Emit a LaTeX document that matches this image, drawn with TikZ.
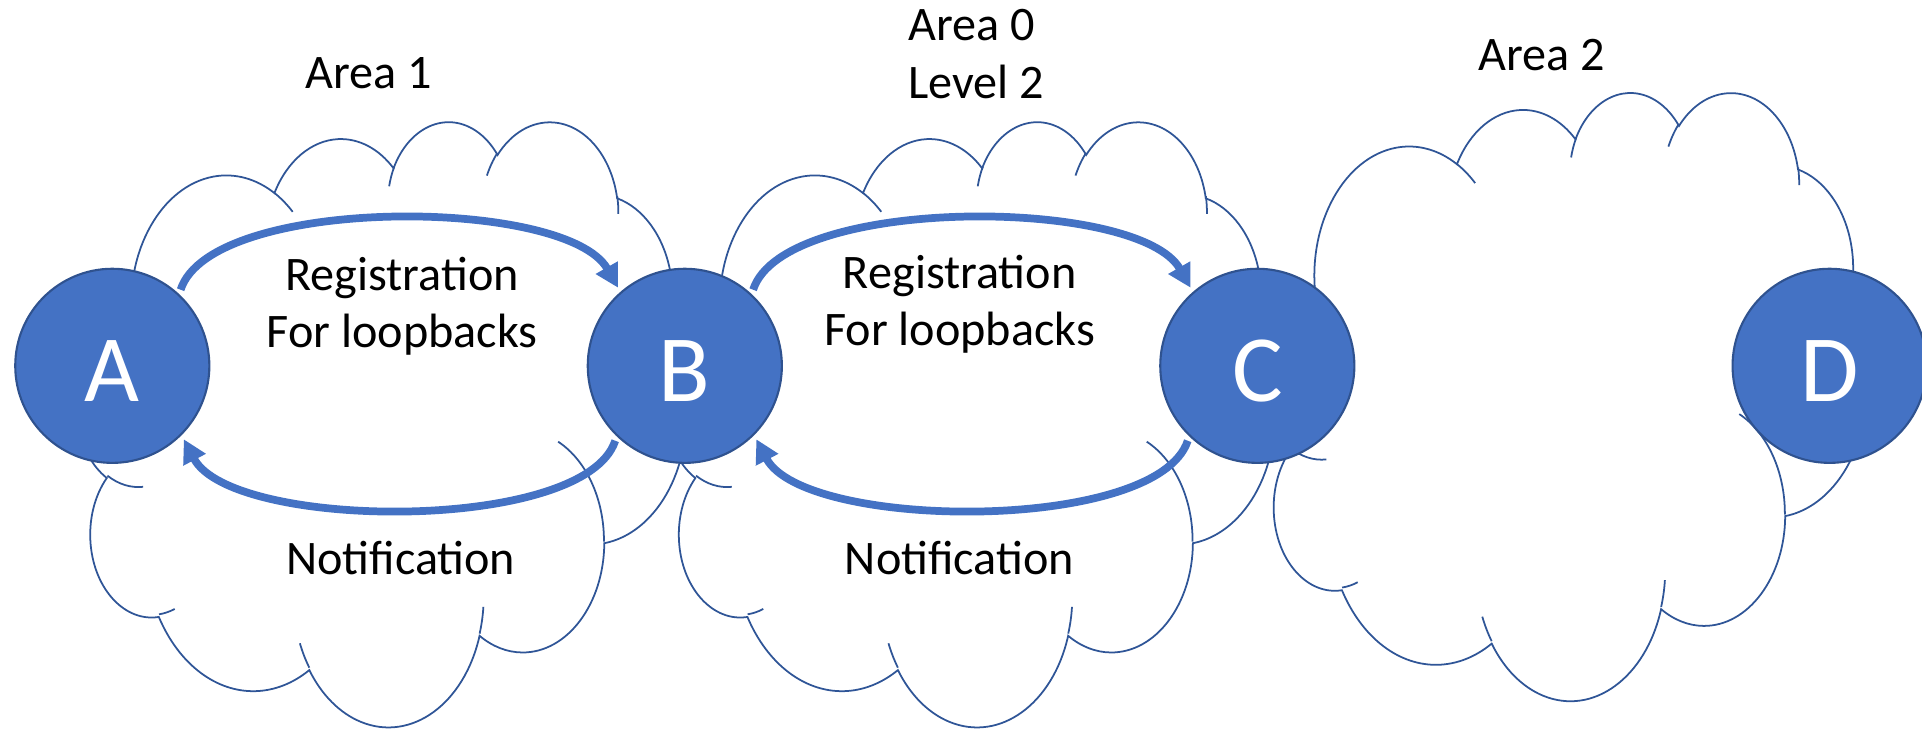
\documentclass[tikz,border=0pt]{standalone}
\usepackage{fontspec}
\setmainfont{Carlito}
\usetikzlibrary{arrows.meta}
\definecolor{nodeblue}{HTML}{4472C4}
\definecolor{nodeedge}{HTML}{2F528F}
\definecolor{cloudedge}{HTML}{2F5597}
% elliptic arc given as in DrawingML arcTo (visual angles, degrees)
\newcommand{\carc}[4]{arc[x radius=#1, y radius=#2, start angle={atan2((#1)*sin(#3),(#2)*cos(#3))}, delta angle={mod(atan2((#1)*sin((#3)+(#4)),(#2)*cos((#3)+(#4)))-atan2((#1)*sin(#3),(#2)*cos(#3))+720,360)}]}
\newcommand{\drawcloud}[4]{%
\begin{scope}[shift={(#1,#2)},xscale=#3/432,yscale=#4/432]
\draw[cloudline,fill=white] (39.00,143.70) \carc{67.53}{91.90}{-190.4875}{123.7805} \carc{53.33}{72.67}{-144.1024}{89.9452} \carc{43.65}{59.45}{-145.8079}{99.7230} \carc{48.57}{65.95}{-130.9861}{117.2417} \carc{53.33}{72.73}{-78.7089}{109.0269} \carc{67.75}{92.20}{-46.2673}{130.2690} \carc{57.85}{78.67}{0.6250}{114.0333} \carc{67.52}{92.15}{22.4516}{115.1726} \carc{77.20}{105.43}{66.2426}{75.7110} \carc{43.60}{59.18}{-274.9421}{146.7356} \carc{43.45}{59.45}{-246.8285}{152.5189} -- cycle;
\draw[cloudline] (46.93,261.77) \carc{43.45}{59.45}{86.7420}{26.4295}
 (69.28,348.99) \carc{43.60}{59.18}{73.6105}{11.4475}
 (164.78,390.90) \carc{67.52}{92.15}{137.6242}{14.0811}
 (288.27,347.51) \carc{67.52}{92.15}{6.4533}{15.9984}
 (341.29,229.54) \carc{57.85}{78.67}{-70.2924}{70.9174}
 (417.98,153.54) \carc{53.33}{72.73}{30.3180}{27.7515}
 (383.24,54.26) \carc{48.57}{65.95}{-13.7443}{14.8589}
 (290.78,39.52) \carc{48.57}{65.95}{-149.1815}{18.1954}
 (221.41,47.20) \carc{43.65}{59.45}{-163.4943}{17.6864}
 (140.00,51.92) \carc{67.53}{91.90}{-66.7070}{12.3194}
 (41.27,157.89) \carc{67.53}{91.90}{157.6544}{11.8582};
\end{scope}}
\tikzset{
 cloudline/.style={draw=cloudedge, line width=0.5pt},
 router/.style={circle, fill=nodeblue, draw=nodeedge, line width=0.6pt, minimum size=1.94cm, inner sep=0pt, text=white, font=\fontsize{27}{32}\selectfont, text height=7.2mm, text depth=0mm},
 flow/.style={draw=nodeblue, line width=2.2pt, -{Triangle[length=6.6pt,width=6.8pt]}, shorten >=1.3pt, shorten <=1.3pt},
 lbl/.style={inner sep=0pt, font=\fontsize{13.7}{16.3}\selectfont}
}
\begin{document}
\begin{tikzpicture}[x=0.01cm,y=-0.01cm]
\useasboundingbox (0,0) rectangle (1922,729);
% clouds
\drawcloud{77}{120.2}{609}{605}
\drawcloud{665.6}{120.2}{609}{605}
\drawcloud{1260.5}{91}{606}{608}
% routers
\node[router] (A) at (112.3,365.8) {A};
\node[router] (B) at (684.8,365.8) {B};
\node[router] (C) at (1257.3,365.8) {C};
\node[router] (D) at (1829.6,365.8) {D};
% flows
\draw[flow] (A.47) .. controls +(32,-99) and +(-54.3,-95.3) .. (B.131);
\draw[flow] (B.-134) .. controls +(-32,97.3) and +(50.1,95.3) .. (A.-45);
\draw[flow] (B.47) .. controls +(32,-99) and +(-54.3,-95.3) .. (C.131);
\draw[flow] (C.-134) .. controls +(-32,97.3) and +(50.1,95.3) .. (B.-45);
% labels
\node[lbl, anchor=base] (reg1) at (402.2,290.6) {\begin{tabular}[t]{@{}c@{}}Registration\\For loopbacks\end{tabular}};
\node[lbl, anchor=base] (not1) at (400.7,574) {Notification};
\node[lbl, anchor=base] (reg2) at (959.7,288.6) {\begin{tabular}[t]{@{}c@{}}Registration\\For loopbacks\end{tabular}};
\node[lbl, anchor=base] (not2) at (959.4,574) {Notification};
\node[lbl, anchor=base] (area1) at (368.4,88.3) {Area 1};
\node[lbl, anchor=base west] (area0) at (907.7,40.9) {\begin{tabular}[t]{@{}l@{}}Area 0\\Level 2\end{tabular}};
\node[lbl, anchor=base] (area2) at (1541.7,70) {Area 2};
\end{tikzpicture}
\end{document}
